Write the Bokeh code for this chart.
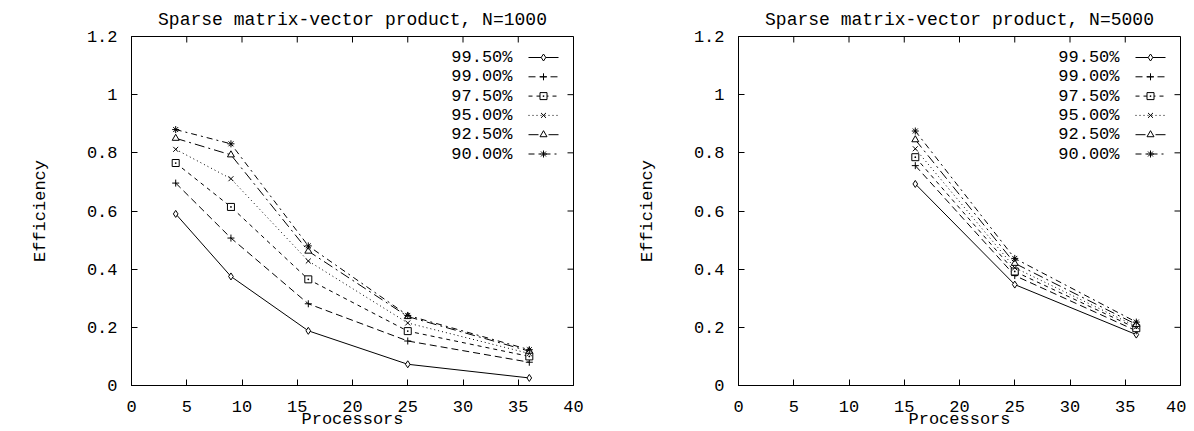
from bokeh.plotting import figure
from bokeh.models import FixedTicker, Range1d, CustomJSTickFormatter
from bokeh.layouts import row
from bokeh.embed import file_html
from bokeh.resources import INLINE
from bokeh.core.properties import value

# ---------------- data ----------------
titles = ["Sparse matrix-vector product, N=1000", "Sparse matrix-vector product, N=5000"]
x_label = "Processors"
y_label = "Efficiency"
series_labels = ["99.50%", "99.00%", "97.50%", "95.00%", "92.50%", "90.00%"]
x_ticks = [0, 5, 10, 15, 20, 25, 30, 35, 40]
y_ticks = [0, 0.2, 0.4, 0.6, 0.8, 1.0, 1.2]

procs_n1000 = [4, 9, 16, 25, 36]
eff_n1000_9950 = [0.590, 0.375, 0.188, 0.073, 0.026]
eff_n1000_9900 = [0.696, 0.507, 0.281, 0.153, 0.080]
eff_n1000_9750 = [0.765, 0.614, 0.365, 0.187, 0.100]
eff_n1000_9500 = [0.812, 0.711, 0.428, 0.215, 0.110]
eff_n1000_9250 = [0.850, 0.793, 0.462, 0.237, 0.118]
eff_n1000_9000 = [0.880, 0.831, 0.480, 0.241, 0.123]

procs_n5000 = [16, 25, 36]
eff_n5000_9950 = [0.693, 0.347, 0.175]
eff_n5000_9900 = [0.756, 0.378, 0.188]
eff_n5000_9750 = [0.785, 0.392, 0.197]
eff_n5000_9500 = [0.814, 0.405, 0.203]
eff_n5000_9250 = [0.845, 0.420, 0.210]
eff_n5000_9000 = [0.875, 0.437, 0.218]

# ---------------- style ----------------
FONT = "Liberation Mono"
markers = ["diamond", "cross", "square_dot", "x", "triangle", "asterisk"]
dashes = ["solid", "7 4", "4 4", "1 3", "10 4 2 4", "6 4 2 4"]

X_MAX, Y_MAX = 40, 1.2
FRAME_W, FRAME_H = 442, 349
FIG_H = 431
TOP = 36
TICK_LEN = 6


def make_panel(title, procs, series, left_border, right_border):
    p = figure(width=left_border + FRAME_W + right_border, height=FIG_H,
               x_range=Range1d(0, X_MAX), y_range=Range1d(0, Y_MAX),
               output_backend="svg", toolbar_location=None,
               min_border_left=left_border, min_border_right=right_border,
               min_border_top=TOP, min_border_bottom=FIG_H - TOP - FRAME_H)
    p.title.text = title
    p.title.align = "center"
    p.title.text_font = FONT
    p.title.text_font_size = "18px"
    p.title.text_font_style = "normal"
    p.title.text_color = "black"
    p.title.standoff = 13
    p.xgrid.visible = False
    p.ygrid.visible = False
    p.outline_line_color = "black"
    p.outline_line_width = 1
    p.background_fill_color = "white"
    p.border_fill_color = "white"

    for ax in (p.xaxis[0], p.yaxis[0]):
        ax.major_tick_in = TICK_LEN
        ax.major_tick_out = 0
        ax.minor_tick_line_color = None
        ax.axis_line_color = "black"
        ax.major_tick_line_color = "black"
        ax.major_label_text_font = FONT
        ax.major_label_text_font_size = "17px"
        ax.major_label_text_color = "black"
        ax.axis_label_text_font = FONT
        ax.axis_label_text_font_size = "17px"
        ax.axis_label_text_font_style = "normal"
        ax.axis_label_text_color = "black"
    p.xaxis[0].ticker = FixedTicker(ticks=x_ticks)
    p.yaxis[0].ticker = FixedTicker(ticks=y_ticks)
    p.yaxis[0].formatter = CustomJSTickFormatter(code="return String(+tick.toFixed(1));")
    p.xaxis[0].axis_label = x_label
    p.yaxis[0].axis_label = y_label
    p.xaxis[0].major_label_standoff = 15
    p.xaxis[0].axis_label_standoff = -5
    p.yaxis[0].major_label_standoff = 14
    p.yaxis[0].axis_label_standoff = 34

    xpx = X_MAX / FRAME_W
    ypx = Y_MAX / FRAME_H

    # mirrored inward ticks on top and right borders
    p.segment(x0=x_ticks, y0=[Y_MAX] * len(x_ticks), x1=x_ticks,
              y1=[Y_MAX - TICK_LEN * ypx] * len(x_ticks), line_color="black", line_width=1)
    p.segment(x0=[X_MAX] * len(y_ticks), y0=y_ticks, x1=[X_MAX - TICK_LEN * xpx] * len(y_ticks),
              y1=y_ticks, line_color="black", line_width=1)

    # data series
    for lab, ys, mk, dash in zip(series_labels, series, markers, dashes):
        p.line(procs, ys, line_color="black", line_width=1, line_dash=dash)
        p.scatter(procs, ys, marker=mk, size=7, line_color="black", fill_color="white",
                  line_width=1)

    # legend (gnuplot style: label on the left, sample on the right)
    lab_x = 381 * xpx
    s0, s1 = 397 * xpx, 427 * xpx
    for i, (lab, mk, dash) in enumerate(zip(series_labels, markers, dashes)):
        yy = Y_MAX - (21 + 19.3 * i) * ypx
        p.text(x=[lab_x], y=[yy], text=[lab], text_align="right", text_baseline="middle",
               text_font=value(FONT), text_font_size="17px", text_color="black")
        p.line([s0, s1], [yy, yy], line_color="black", line_width=1, line_dash=dash)
        p.scatter([(s0 + s1) / 2], [yy], marker=mk, size=7, line_color="black",
                  fill_color="white", line_width=1)
    return p


p1 = make_panel(titles[0], procs_n1000,
                [eff_n1000_9950, eff_n1000_9900, eff_n1000_9750,
                 eff_n1000_9500, eff_n1000_9250, eff_n1000_9000], 131, 35)
p2 = make_panel(titles[1], procs_n5000,
                [eff_n5000_9950, eff_n5000_9900, eff_n5000_9750,
                 eff_n5000_9500, eff_n5000_9250, eff_n5000_9000], 130, 6)

p = row(p1, p2)
open("out.html", "w").write(file_html(p, INLINE))
